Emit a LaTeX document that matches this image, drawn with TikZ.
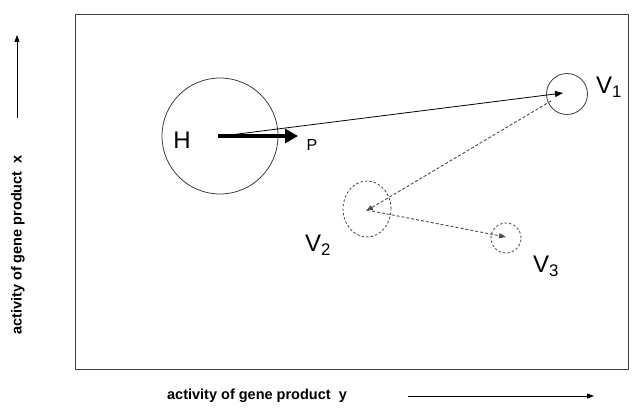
\documentclass[tikz,border=0pt]{standalone}
\usepackage{fontspec}
\setmainfont{Liberation Sans}
\usetikzlibrary{arrows.meta,shapes.geometric}
\begin{document}
\begin{tikzpicture}[x=1pt,y=-1pt,
  circ/.style={circle,draw=black!75,line width=0.8pt,inner sep=0pt},
  dcirc/.style={draw=black!65,dashed,dash pattern=on 2.5pt off 2pt,line width=0.9pt,inner sep=0pt},
  lbl/.style={font=\fontsize{24}{26}\selectfont,inner sep=0pt},
  axlbl/.style={font=\fontsize{14.5}{16}\selectfont\bfseries,inner sep=0pt},
  conn/.style={line width=0.8pt,-{Triangle[length=8pt,width=6pt]}},
  dconn/.style={line width=0.9pt,draw=black!70,dash pattern=on 3pt off 2pt,-{Triangle[length=7pt,width=5pt]}}
]
\useasboundingbox (0,0) rectangle (640,412);
\fill[white] (0,0) rectangle (640,412);
\node[draw=black!75,line width=0.9pt,minimum width=553pt,minimum height=355pt,inner sep=0pt] (frame) at (351.5,191.5) {};
% circles
\node[circ,minimum size=116pt] (H) at (220,136) {};
\node[circ,minimum size=41pt] (V1) at (567,94) {};
\node[dcirc,ellipse,minimum width=48pt,minimum height=56pt] (V2) at (367,209) {};
\node[dcirc,circle,minimum size=30pt] (V3) at (506,238) {};
% centres
\coordinate (Hc) at (218,136);
\coordinate (Hs) at (222,136);
\coordinate (Pend) at (298,136);
\coordinate (V1c) at (563,93);
\coordinate (V1s) at (551,101);
\coordinate (V2c) at (366,211);
\coordinate (V2s) at (372,211);
\coordinate (V3c) at (506,237);
% labels
\node[lbl] (Hl) at (182,140) {H};
\node[font=\fontsize{16}{18}\selectfont,inner sep=0pt] (P) at (312,145) {P};
\node[lbl,anchor=west] (V1l) at (596,87) {V\textsubscript{1}};
\node[lbl,anchor=west] (V2l) at (305,245) {V\textsubscript{2}};
\node[lbl,anchor=west] (V3l) at (533,266) {V\textsubscript{3}};
% connectors
\draw[line width=4.5pt,-{Triangle[length=13pt,width=14pt]}] (Hc) -- (Pend);
\draw[conn] (Hs) -- (V1c);
\draw[dconn] (V1s) -- (V2c);
\draw[dconn] (V2s) -- (V3c);
% axes
\node[axlbl,rotate=90] (ylab) at (18,245) {activity of gene product\ \ x};
\coordinate (ya) at (17,118);
\coordinate (yb) at (17,35);
\draw[line width=0.8pt,-{Triangle[length=7pt,width=5pt]}] (ya) -- (yb);
\node[axlbl] (xlab) at (257,396) {activity of gene product\ \ y};
\coordinate (xa) at (408,396);
\coordinate (xb) at (594,396);
\draw[line width=0.8pt,-{Triangle[length=7pt,width=5pt]}] (xa) -- (xb);
\end{tikzpicture}
\end{document}
